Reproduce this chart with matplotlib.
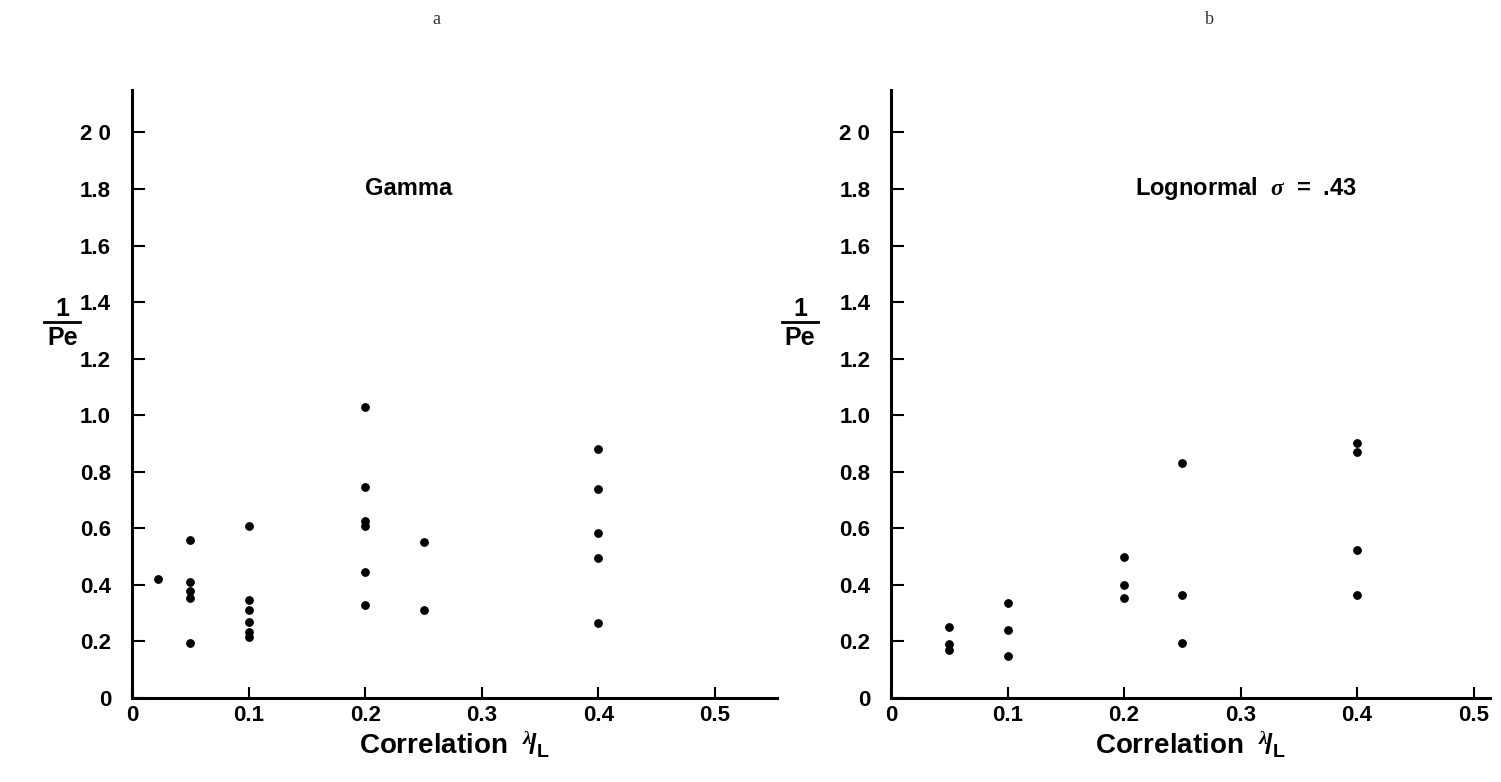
import matplotlib.pyplot as plt
from matplotlib.lines import Line2D

plt.rcParams['font.family'] = ['Liberation Sans', 'DejaVu Sans']
plt.rcParams['font.weight'] = 'bold'
plt.rcParams['mathtext.fontset'] = 'custom'
plt.rcParams['mathtext.rm'] = 'Liberation Sans:bold'
plt.rcParams['mathtext.bf'] = 'Liberation Sans:bold'
plt.rcParams['mathtext.it'] = 'Liberation Serif:italic'

FS = 16

# panel a: Gamma
gamma_x = [0.0225,
           0.05, 0.05, 0.05, 0.05, 0.05,
           0.1, 0.1, 0.1, 0.1, 0.1, 0.1,
           0.2, 0.2, 0.2, 0.2, 0.2, 0.2,
           0.25, 0.25,
           0.4, 0.4, 0.4, 0.4, 0.4]
gamma_y = [0.42,
           0.56, 0.41, 0.38, 0.355, 0.195,
           0.61, 0.345, 0.31, 0.27, 0.235, 0.215,
           1.03, 0.745, 0.625, 0.61, 0.445, 0.33,
           0.55, 0.31,
           0.88, 0.74, 0.585, 0.495, 0.265]

# panel b: Lognormal sigma = .43
logn_x = [0.05, 0.05, 0.05,
          0.1, 0.1, 0.1,
          0.2, 0.2, 0.2,
          0.25, 0.25, 0.25,
          0.4, 0.4, 0.4, 0.4]
logn_y = [0.25, 0.19, 0.17,
          0.335, 0.24, 0.15,
          0.50, 0.40, 0.355,
          0.83, 0.365, 0.195,
          0.90, 0.87, 0.525, 0.365]

yticks = [0, 0.2, 0.4, 0.6, 0.8, 1.0, 1.2, 1.4, 1.6, 1.8, 2.0]
ytick_labels = ['0', '0.2', '0.4', '0.6', '0.8', '1.0', '1.2', '1.4', '1.6', '1.8', '2 0']
xticks = [0, 0.1, 0.2, 0.3, 0.4, 0.5]
xtick_labels = ['0', '0.1', '0.2', '0.3', '0.4', '0.5']

fig = plt.figure(figsize=(15.01, 7.82), dpi=100)
ax1 = fig.add_axes([0.0879, 0.1074, 0.4297, 0.7775])
ax2 = fig.add_axes([0.5936, 0.1074, 0.3990, 0.7775])

# axes, points, xmax, panel text, text x (data), panel letter, letter x (fig)
panels = [(ax1, gamma_x, gamma_y, 0.553, 'Gamma', 0.237, 'a', 0.291),
          (ax2, logn_x, logn_y, 0.514, r'Lognormal  $\sigma$  =  .43', 0.305, 'b', 0.806)]

for ax, xs, ys, xmax, name, nx, letter, lx in panels:
    ax.scatter(xs, ys, s=28, color='black', zorder=3)
    ax.set_xlim(0, xmax)
    ax.set_ylim(0, 2.15)
    for s in ['top', 'right']:
        ax.spines[s].set_visible(False)
    for s in ['left', 'bottom']:
        ax.spines[s].set_linewidth(2.2)
    ax.set_yticks(yticks)
    ax.set_yticklabels(ytick_labels, fontsize=FS, fontweight='bold')
    ax.set_xticks(xticks)
    ax.set_xticklabels(xtick_labels, fontsize=FS, fontweight='bold')
    ax.tick_params(axis='y', direction='in', length=9, width=1.5, pad=15)
    ax.tick_params(axis='x', direction='in', length=8, width=1.5, pad=5)
    ax.set_xlabel(r'Correlation  $^{\lambda}\!/_{\mathrm{L}}$', fontsize=20,
                  fontweight='bold', labelpad=3)
    ax.text(nx, 1.8, name, fontsize=17, fontweight='bold', ha='center', va='center')
    fig.text(lx, 0.975, letter, fontsize=13, family='Liberation Serif',
             fontweight='normal', color='#333333', ha='center', va='center')

# 1/Pe fraction labels
for xc in [0.0416, 0.5330]:
    fig.text(xc, 0.605, '1', fontsize=18, fontweight='bold', ha='center', va='center')
    fig.text(xc, 0.568, 'Pe', fontsize=18, fontweight='bold', ha='center', va='center')
    fig.add_artist(Line2D([xc - 0.012, xc + 0.012], [0.588, 0.588],
                          color='black', lw=2, transform=fig.transFigure))

plt.savefig('out.png', dpi=100)
